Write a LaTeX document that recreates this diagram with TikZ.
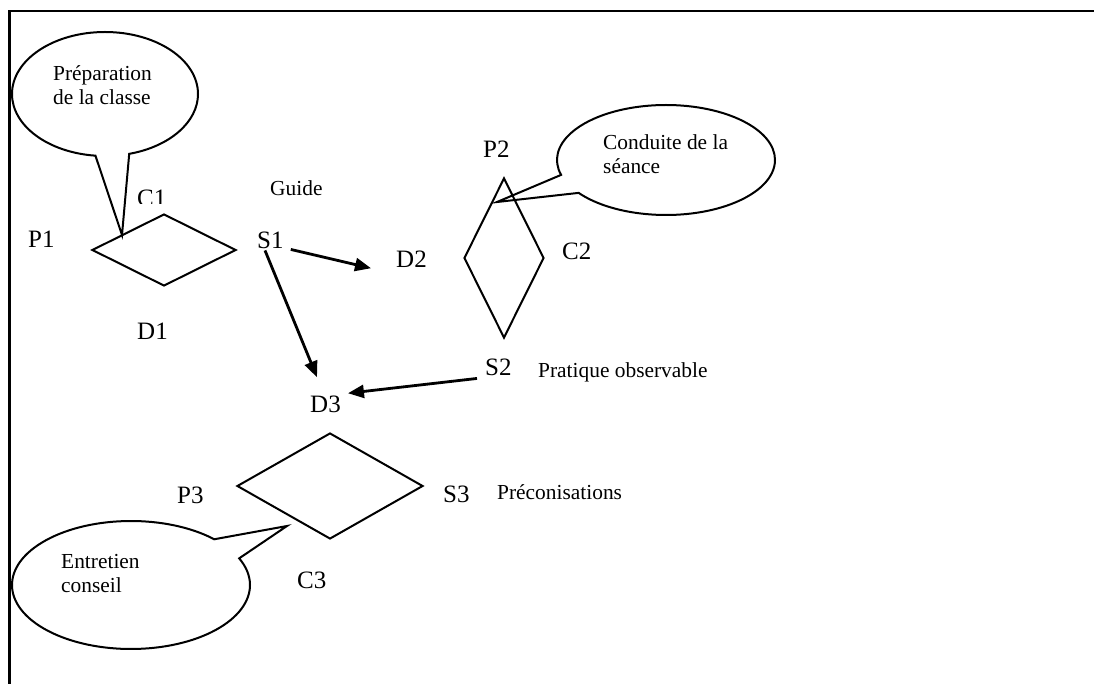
\documentclass[tikz,border=0pt]{standalone}
\usepackage{fontspec}
\setmainfont{Liberation Serif}
\usetikzlibrary{shapes.geometric,shapes.callouts,arrows.meta,calc}
\begin{document}
\begin{tikzpicture}[x=1pt,y=-1pt,
  big/.style={font=\fontsize{25}{28}\selectfont, inner sep=0pt, anchor=base west},
  small/.style={font=\fontsize{21.4}{24.5}\selectfont, inner sep=0pt, anchor=base west},
  bubbletext/.style={font=\fontsize{21.4}{24.5}\selectfont, inner sep=0pt, anchor=north west, align=left},
  losange/.style={diamond, draw, line width=2pt, inner sep=0pt},
  bulle/.style={ellipse callout, draw, line width=2pt, inner sep=0pt, callout pointer arc=21},
  fleche/.style={line width=2.8pt, -{Triangle[length=16pt,width=13pt]}},
]
\useasboundingbox (0,0) rectangle (1094,684);
% frame
\draw[line width=2.4pt] (9.5,684) -- (9.5,11) -- (1094,11);

% diamonds
\node[losange, minimum width=144pt, minimum height=72pt] (L1) at (164,250) {};
\node[losange, minimum width=80pt, minimum height=160pt] (L2) at (504,258) {};
\node[losange, minimum width=186pt, minimum height=106pt] (L3) at (330,486) {};

% callouts
\node[bulle, minimum width=186pt, minimum height=124pt, callout absolute pointer={(122,235)}] (B1) at (105,94) {};
\node[bubbletext] (T1) at (53,65) {Préparation\\de la classe};
\node[bulle, minimum width=218pt, minimum height=110pt, callout absolute pointer={(497,202)}] (B2) at (666,160) {};
\node[bubbletext] (T2) at (603,134) {Conduite de la\\séance};
\node[bulle, minimum width=238pt, minimum height=128pt, callout absolute pointer={(287,526)}] (B3) at (131,585) {};
\node[bubbletext] (T3) at (61,554) {Entretien\\conseil};

% labels
\node[big] (P1) at (28,248) {P1};
\begin{scope}
\clip (125,175) rectangle (180,203.5);
\node[big] (C1) at (137,207) {C1};
\end{scope}
\node[big] (S1) at (257,249) {S1};
\node[small] (guide) at (270,196) {Guide};
\node[big] (D1) at (137,339) {D1};
\node[big] (D2) at (396,268) {D2};
\node[big] (P2) at (483,158) {P2};
\node[big] (C2) at (562,260) {C2};
\node[big] (S2) at (485,375) {S2};
\node[small] (prat) at (538,377) {Pratique observable};
\node[big] (D3) at (310,412) {D3};
\node[big] (P3) at (177,503) {P3};
\node[big] (S3) at (443,502) {S3};
\node[small] (preco) at (497,499) {Préconisations};
\node[big] (C3) at (297,588) {C3};

% arrows
\draw[fleche] ($(S1.south east)+(7,0)$) -- ($(D2.south west)+(-25,0)$);
\draw[fleche] ($(S1.south west)+(8,1)$) -- ($(D3.north west)+(7,-18)$);
\draw[fleche] ($(S2.south west)+(-8,3)$) -- ($(D3.north east)+(7,-2)$);
\end{tikzpicture}
\end{document}
